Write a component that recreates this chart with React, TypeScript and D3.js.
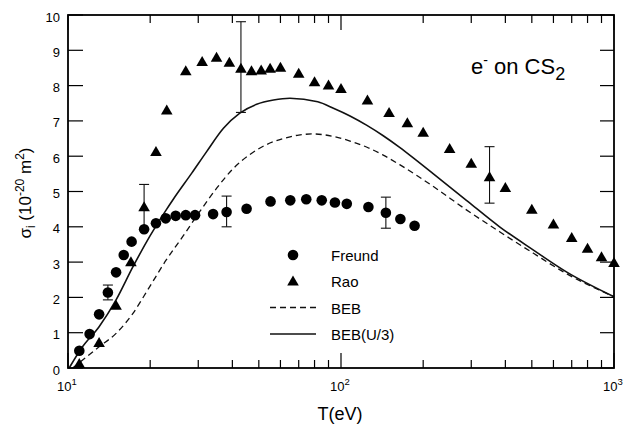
import { useEffect, useRef } from 'react'
import * as d3 from 'd3'

// Freund (circles)
const FREUND_T = [11, 12, 13, 14, 15, 16, 17.1, 19, 21, 22.8, 24.8, 27, 29.2, 34, 38.1, 45.1, 55.2, 65.2, 74.6, 85, 95, 105, 126, 146, 165, 186]
const FREUND_S = [0.49, 0.96, 1.52, 2.14, 2.71, 3.2, 3.58, 3.93, 4.1, 4.24, 4.31, 4.33, 4.33, 4.36, 4.42, 4.51, 4.72, 4.75, 4.78, 4.75, 4.69, 4.65, 4.56, 4.4, 4.22, 4.03]
// Rao (triangles)
const RAO_T = [11, 13, 15, 17, 19, 21, 23, 27, 31, 35, 39, 43, 47, 51, 55, 60, 70, 80, 90, 100, 125, 150, 175, 200, 250, 300, 350, 400, 500, 600, 700, 800, 900, 1000]
const RAO_S = [0.13, 0.72, 1.78, 3.01, 4.57, 6.13, 7.31, 8.42, 8.68, 8.8, 8.66, 8.49, 8.42, 8.44, 8.49, 8.52, 8.35, 8.11, 8.02, 7.92, 7.59, 7.24, 6.95, 6.68, 6.22, 5.8, 5.42, 5.11, 4.5, 4.08, 3.7, 3.39, 3.15, 2.99]
// error bars
const ERR_FREUND_T = [14, 38.1, 146]
const ERR_FREUND_LO = [1.93, 4.0, 3.96]
const ERR_FREUND_HI = [2.35, 4.87, 4.84]
const ERR_RAO_T = [19, 43, 350]
const ERR_RAO_LO = [3.95, 7.24, 4.67]
const ERR_RAO_HI = [5.2, 9.81, 6.27]
// BEB (dashed)
const BEB_T = [10.4, 13, 15, 17.3, 19.9, 22.9, 26.3, 30.5, 35.1, 40.3, 46.4, 53.4, 61.5, 70, 79, 93.8, 107.9, 124, 142.8, 164, 189, 218, 288, 381, 507, 667, 1000]
const BEB_S = [0, 0.6, 0.98, 1.55, 2.3, 3.06, 3.72, 4.45, 5.1, 5.65, 6.05, 6.33, 6.5, 6.6, 6.63, 6.56, 6.43, 6.26, 6.03, 5.76, 5.46, 5.14, 4.48, 3.86, 3.25, 2.68, 2.02]
// BEB(U/3) (solid)
const BEBU3_T = [10.1, 11.3, 13, 15, 17.3, 19.9, 22.9, 24.2, 28.4, 32.2, 37.1, 42.6, 49.1, 56.6, 65, 82.2, 93.8, 107.9, 124, 142.8, 164, 189, 218, 288, 381, 507, 667, 1000]
const BEBU3_S = [0, 0.6, 1.17, 1.93, 2.87, 3.72, 4.48, 4.76, 5.52, 6.13, 6.79, 7.22, 7.47, 7.59, 7.64, 7.54, 7.36, 7.14, 6.88, 6.58, 6.25, 5.88, 5.5, 4.75, 4.0, 3.34, 2.73, 2.02]

const Y_TICKS = [0, 1, 2, 3, 4, 5, 6, 7, 8, 9, 10]
const X_MAJOR = [10, 100, 1000]
const X_MAJOR_EXP = ['1', '2', '3']
const LEGEND = ['Freund', 'Rao', 'BEB', 'BEB(U/3)']

const W = 626, H = 424
const FONT = "'Liberation Sans', Arial, Helvetica, sans-serif"

export default function App() {
  const svgRef = useRef<SVGSVGElement>(null)

  useEffect(() => {
    if (!svgRef.current) return
    const svg = d3.select(svgRef.current)
    svg.selectAll('*').remove()

    const L = 68, R = 614, T = 15, B = 368
    const x = d3.scaleLog().domain([10, 1000]).range([L, R])
    const y = d3.scaleLinear().domain([0, 10]).range([B, T])

    const g = svg.append('g').attr('font-family', FONT)

    // curves
    const line = d3.line<[number, number]>()
      .x(d => x(d[0])).y(d => y(d[1])).curve(d3.curveMonotoneX)
    g.append('path').attr('d', line(BEB_T.map((t, i) => [t, BEB_S[i]]))!)
      .attr('fill', 'none').attr('stroke', '#111').attr('stroke-width', 1.3)
      .attr('stroke-dasharray', '6,4')
    g.append('path').attr('d', line(BEBU3_T.map((t, i) => [t, BEBU3_S[i]]))!)
      .attr('fill', 'none').attr('stroke', '#111').attr('stroke-width', 1.6)

    // error bars
    const errBar = (ts: number[], lo: number[], hi: number[]) => {
      ts.forEach((t, i) => {
        const cx = x(t)
        g.append('line').attr('x1', cx).attr('x2', cx).attr('y1', y(lo[i])).attr('y2', y(hi[i]))
          .attr('stroke', '#111').attr('stroke-width', 1.1)
        ;[lo[i], hi[i]].forEach(v => {
          g.append('line').attr('x1', cx - 5).attr('x2', cx + 5).attr('y1', y(v)).attr('y2', y(v))
            .attr('stroke', '#111').attr('stroke-width', 1.1)
        })
      })
    }
    errBar(ERR_FREUND_T, ERR_FREUND_LO, ERR_FREUND_HI)
    errBar(ERR_RAO_T, ERR_RAO_LO, ERR_RAO_HI)

    // markers
    const tri = 'M0,-5.5L5.8,4.5L-5.8,4.5Z'
    FREUND_T.forEach((t, i) => {
      g.append('circle').attr('cx', x(t)).attr('cy', y(FREUND_S[i])).attr('r', 5.3).attr('fill', '#000')
    })
    RAO_T.forEach((t, i) => {
      g.append('path').attr('d', tri).attr('transform', `translate(${x(t)},${y(RAO_S[i])})`).attr('fill', '#000')
    })

    // frame
    g.append('rect').attr('x', L).attr('y', T).attr('width', R - L).attr('height', B - T)
      .attr('fill', 'none').attr('stroke', '#000').attr('stroke-width', 1.8)

    // y ticks
    Y_TICKS.forEach(v => {
      const yy = y(v)
      g.append('line').attr('x1', L).attr('x2', L + 15).attr('y1', yy).attr('y2', yy).attr('stroke', '#000').attr('stroke-width', 1.2)
      g.append('line').attr('x1', R - 14).attr('x2', R).attr('y1', yy).attr('y2', yy).attr('stroke', '#000').attr('stroke-width', 1.2)
      g.append('text').attr('x', 60).attr('y', yy + 6.5).attr('text-anchor', 'end')
        .attr('font-size', 13).attr('fill', '#000').text(String(v))
    })

    // x ticks
    x.ticks().forEach(v => {
      const xx = x(v)
      const major = X_MAJOR.includes(v)
      const len = major ? 15 : 8
      g.append('line').attr('x1', xx).attr('x2', xx).attr('y1', B).attr('y2', B - len).attr('stroke', '#000').attr('stroke-width', 1.2)
      g.append('line').attr('x1', xx).attr('x2', xx).attr('y1', T).attr('y2', T + len).attr('stroke', '#000').attr('stroke-width', 1.2)
    })
    X_MAJOR.forEach((v, i) => {
      const t = g.append('text').attr('x', x(v) - 1).attr('y', 391).attr('text-anchor', 'middle')
        .attr('font-size', 13).attr('fill', '#000')
      t.append('tspan').text('10')
      t.append('tspan').attr('dy', -6).attr('font-size', 9.5).text(X_MAJOR_EXP[i])
    })

    // axis titles
    g.append('text').attr('x', 340).attr('y', 420).attr('text-anchor', 'middle')
      .attr('font-size', 18).attr('fill', '#000').text('T(eV)')
    const yl = g.append('text').attr('transform', 'translate(31,193) rotate(-90)')
      .attr('text-anchor', 'middle').attr('font-size', 17).attr('fill', '#000')
    yl.append('tspan').text('σ')
    yl.append('tspan').attr('dy', 4).attr('font-size', 12).text('i')
    yl.append('tspan').attr('dy', -4).text(' (10')
    yl.append('tspan').attr('dy', -7).attr('font-size', 12).text('-20')
    yl.append('tspan').attr('dy', 7).text(' m')
    yl.append('tspan').attr('dy', -7).attr('font-size', 12).text('2')
    yl.append('tspan').attr('dy', 7).text(')')

    // annotation
    const an = g.append('text').attr('x', 471).attr('y', 74).attr('font-size', 22).attr('fill', '#000')
    an.append('tspan').text('e')
    an.append('tspan').attr('dy', -9).attr('font-size', 14).text('-')
    an.append('tspan').attr('dy', 9).text(' on CS')
    an.append('tspan').attr('dy', 6).attr('font-size', 18).text('2')

    // legend
    const rows = [255, 281, 307.5, 334]
    LEGEND.forEach((name, i) => {
      const ry = rows[i]
      if (i === 0) g.append('circle').attr('cx', 293).attr('cy', ry).attr('r', 5.3).attr('fill', '#000')
      if (i === 1) g.append('path').attr('d', tri).attr('transform', `translate(293,${ry})`).attr('fill', '#000')
      if (i === 2) g.append('line').attr('x1', 270).attr('x2', 316).attr('y1', ry).attr('y2', ry)
        .attr('stroke', '#111').attr('stroke-width', 1.3).attr('stroke-dasharray', '6,4')
      if (i === 3) g.append('line').attr('x1', 270).attr('x2', 316).attr('y1', ry).attr('y2', ry)
        .attr('stroke', '#111').attr('stroke-width', 1.6)
      g.append('text').attr('x', 331).attr('y', ry + 6).attr('font-size', 15).attr('fill', '#000').text(name)
    })

    return () => { svg.selectAll('*').remove() }
  }, [])

  return (
    <svg ref={svgRef} width={W} height={H} viewBox={`0 0 ${W} ${H}`}
      style={{ position: 'absolute', left: 0, top: 0, background: '#fff' }} />
  )
}
